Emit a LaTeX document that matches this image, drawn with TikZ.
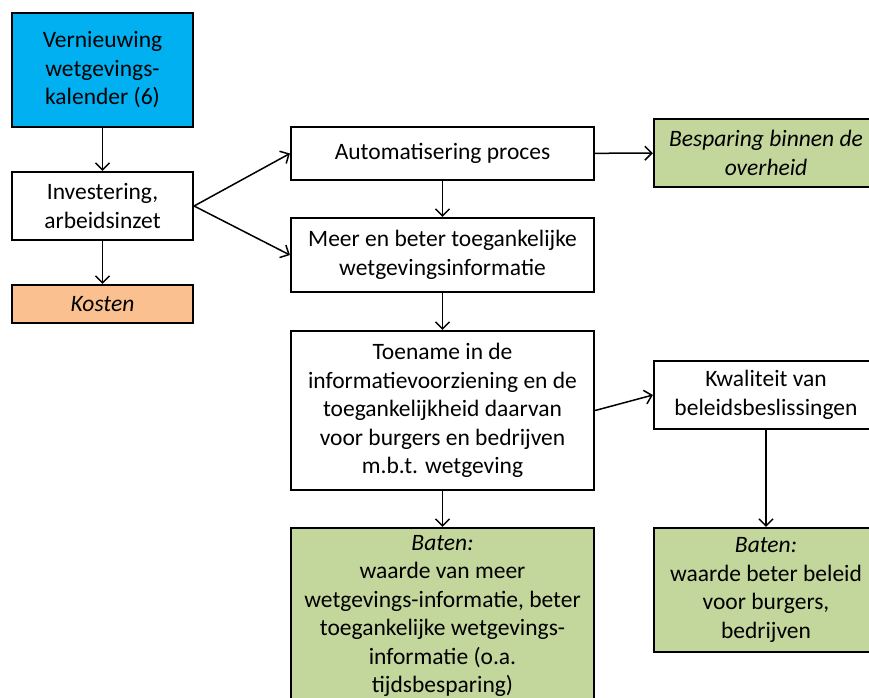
\documentclass[tikz,border=0pt]{standalone}
\usepackage{fontspec}
\setmainfont{Carlito}
\usepackage{xcolor}
\usepackage{tikz}
\usetikzlibrary{shapes.geometric, arrows, arrows.meta}
\definecolor{kalblue}{HTML}{00B0F0}
\definecolor{kostorange}{HTML}{FAC090}
\definecolor{batgreen}{HTML}{C3D69B}
\tikzstyle{box} = [rectangle, draw=black, line width=2.2pt, align=center, inner sep=0pt, font=\fontsize{23.5}{28.5}\selectfont]
\tikzstyle{cost} = [box, fill=kostorange]
\tikzstyle{benefit} = [box, fill=batgreen]
\tikzstyle{arrow} = [line width=1.5pt,-{Straight Barb[length=7pt,width=14pt]}]

\begin{document}
\begin{tikzpicture}[x=1pt, y=1pt]
   \useasboundingbox (0,0) rectangle (869,-697);
   \node (vern) [box, fill=kalblue, minimum width=181, minimum height=114] at (102.5,-70) {Vernieuwing\\wetgevings-\\kalender (6)};
   \node (inv) [box, minimum width=181, minimum height=68] at (102.5,-206) {Investering,\\arbeidsinzet};
   \node (kost) [cost, minimum width=181, minimum height=38] at (102.5,-304) {\itshape Kosten};
   \node (auto) [box, minimum width=303, minimum height=53] at (442.5,-153.5) {Automatisering proces};
   \node (besp) [benefit, minimum width=224, minimum height=68] at (766,-153) {\itshape Besparing binnen de\\\itshape overheid};
   \node (meer) [box, minimum width=303, minimum height=74] at (442.5,-255) {Meer en beter toegankelijke\\wetgevingsinformatie};
   \node (toen) [box, minimum width=303, minimum height=159] at (442.5,-410.5) {Toename in de\\informatievoorziening en de\\toegankelijkheid daarvan\\voor burgers en bedrijven\\m.b.t. wetgeving};
   \node (kwal) [box, minimum width=224, minimum height=68] at (766,-395) {Kwaliteit van\\beleidsbeslissingen};
   \node (batl) [benefit, minimum width=303, minimum height=176] at (442.5,-616) {\itshape Baten:\\waarde van meer\\wetgevings-informatie, beter\\toegankelijke wetgevings-\\informatie (o.a.\\tijdsbesparing)};
   \node (batr) [benefit, minimum width=224, minimum height=124] at (766,-590) {\itshape Baten:\\waarde beter beleid\\voor burgers,\\bedrijven};
   \draw [arrow] (vern) -- (inv);
   \draw [arrow] (inv) -- (kost);
   \draw [arrow] (inv.east) -- (auto.west);
   \draw [arrow] (inv.east) -- (meer.west);
   \draw [arrow] (auto) -- (besp);
   \draw [arrow] (auto) -- (meer);
   \draw [arrow] (meer) -- (toen);
   \draw [arrow] (toen.east) -- (kwal.west);
   \draw [arrow] (toen) -- (batl);
   \draw [arrow] (kwal) -- (batr);
\end{tikzpicture}
\end{document}
